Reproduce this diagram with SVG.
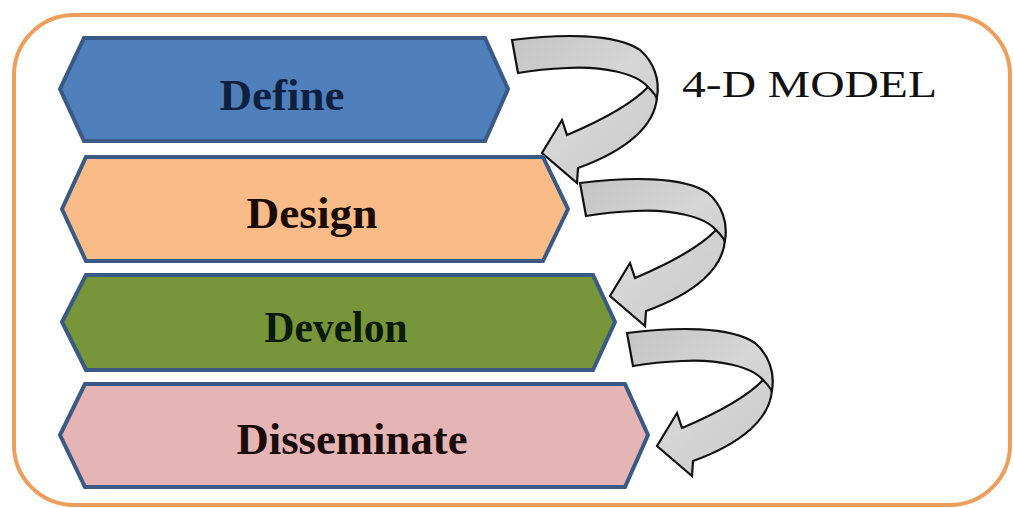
<svg xmlns="http://www.w3.org/2000/svg" width="1013" height="508" viewBox="0 0 1013 508">
<defs>
<style>
.stage{stroke:#3A5A85;stroke-width:4;stroke-linejoin:miter}
.lbl{font-family:"Liberation Serif","Times New Roman",serif;font-weight:bold;font-size:44px;text-anchor:middle}
.arrow{fill:url(#ag);stroke:#111;stroke-width:2.2;stroke-linejoin:miter}
.twist{fill:none;stroke:#111;stroke-width:2.2}
</style>
<linearGradient id="ag" x1="0" y1="0" x2="1" y2="1">
<stop offset="0" stop-color="#C4C4C4"/>
<stop offset="0.5" stop-color="#D6D6D6"/>
<stop offset="1" stop-color="#C8C8C8"/>
</linearGradient>
<g id="curv">
<path class="arrow" d="M512,40 C560,34 615,33 640,50 C654,62 660,80 657,97 C655,125 628,150 578,168 L577,183 L542,153 L562,120 L567,135 C600,121 630,106 648,87 C636,73 602,66 567,68 C545,69 530,71 518,73 Z"/>
<path class="twist" d="M648,87 C652,91 656,95 657,99"/>
</g>
</defs>
<rect width="1013" height="508" fill="#FFFFFF"/>
<rect id="frame" x="14" y="15" width="996" height="490" rx="60" ry="60" fill="#FFFFFF" stroke="#EE9E5C" stroke-width="4"/>

<g id="connectors">
<use href="#curv"/>
<use href="#curv" transform="translate(68,143)"/>
<use href="#curv" transform="translate(115,293)"/>
</g>

<g id="define">
<polygon class="stage" fill="#4F80BC" points="60,89 84,38 485,38 508,89 485,141 84,141"/>
<text class="lbl" x="282" y="110" fill="#0F1F3F" textLength="125" lengthAdjust="spacingAndGlyphs">Define</text>
</g>
<g id="design">
<polygon class="stage" fill="#F9BC88" points="62,209 86,157 543,157 568,209 543,261 86,261"/>
<text class="lbl" x="312" y="228" fill="#1A0A05" textLength="131" lengthAdjust="spacingAndGlyphs">Design</text>
</g>
<g id="develop">
<polygon class="stage" fill="#779539" points="62,322 86,275 593,275 615,322 593,370 86,370"/>
<text class="lbl" x="336" y="342" fill="#0A1A08" textLength="143" lengthAdjust="spacingAndGlyphs">Develon</text>
</g>
<g id="disseminate">
<polygon class="stage" fill="#E5B4B5" points="60,435 85,384 625,384 648,435 625,487 85,487"/>
<text class="lbl" x="352" y="454" fill="#1A0A0A" textLength="231" lengthAdjust="spacingAndGlyphs">Disseminate</text>
</g>

<g id="title">
<text x="682" y="97" font-family="'Liberation Serif','Times New Roman',serif" font-size="38" fill="#111" textLength="255" lengthAdjust="spacingAndGlyphs">4-D MODEL</text>
</g>
</svg>
